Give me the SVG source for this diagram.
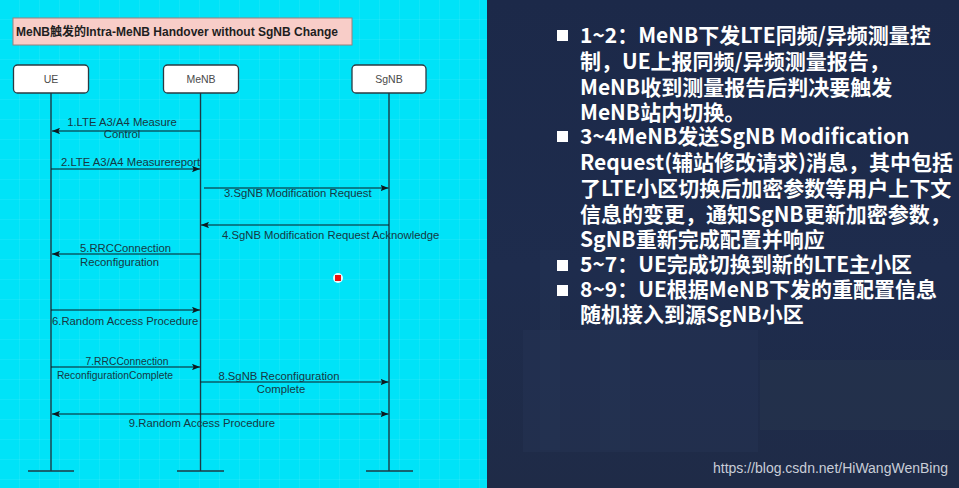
<svg xmlns="http://www.w3.org/2000/svg" width="959" height="488" viewBox="0 0 959 488">
<defs>
<pattern id="grid" width="20" height="20" patternUnits="userSpaceOnUse">
<path d="M20 0V20M0 20H20" fill="none" stroke="#ffffff" stroke-opacity="0.13" stroke-width="1"/>
</pattern>
<linearGradient id="night" x1="0" y1="0" x2="0" y2="1">
<stop offset="0" stop-color="#1c2949"/>
<stop offset="0.55" stop-color="#1e2c4d"/>
<stop offset="1" stop-color="#1f2b47"/>
</linearGradient>
<marker id="arr" viewBox="0 0 10 8" refX="10" refY="4" markerWidth="8" markerHeight="6.4" orient="auto-start-reverse" markerUnits="userSpaceOnUse">
<path d="M0 0L10 4L0 8L2 4Z" fill="#0d1a20"/>
</marker>
<style>
.lbl{font-family:"Liberation Sans",Arial,sans-serif;font-size:11.3px;fill:#173843}
.sm{font-size:10.3px}
.hdr{fill:#ffffff;stroke:#2b3b42;stroke-width:1.3}
.hdrt{font-family:"Liberation Sans",Arial,sans-serif;font-size:10.5px;fill:#4a4a4a;text-anchor:middle}
.life{stroke:#1c3a45;stroke-width:1.4;fill:none}
.msg{stroke:#0d1a20;stroke-width:1.1;fill:none}
.bul{font-family:"Noto Sans CJK SC","Noto Sans",sans-serif;font-size:21px;font-weight:bold;fill:#ffffff}
.sq{fill:#ffffff}
</style>
</defs>

<!-- left panel background -->
<rect x="0" y="0" width="487" height="488" fill="#00e3f8"/>
<rect x="0" y="0" width="487" height="488" fill="url(#grid)"/>

<!-- right panel background -->
<rect x="487" y="0" width="472" height="488" fill="url(#night)"/>
<rect x="523" y="330" width="235" height="122" fill="#27375a" opacity="0.35"/>
<rect x="540" y="250" width="20" height="200" fill="#2a3a5c" opacity="0.22"/>
<rect x="600" y="240" width="30" height="210" fill="#2a3a5c" opacity="0.2"/>
<rect x="760" y="360" width="199" height="70" fill="#2f3a4e" opacity="0.3"/>

<!-- title -->
<g id="title">
<rect x="13" y="18" width="339" height="27" fill="#f8cdc8" stroke="#9b7f7c" stroke-width="1"/>
<text x="16" y="36" font-family="'Liberation Sans','Noto Sans CJK SC',Arial,sans-serif" font-size="12" font-weight="bold" fill="#1e1e1e">MeNB触发的Intra-MeNB Handover without SgNB Change</text>
</g>

<!-- nodes -->
<g id="UE">
<rect class="hdr" x="13.5" y="65" width="75" height="28" rx="4"/>
<text class="hdrt" x="51" y="83">UE</text>
<line class="life" x1="51" y1="93" x2="51" y2="471"/>
<line class="life" x1="28" y1="471" x2="74" y2="471" stroke-width="2"/>
</g>
<g id="MeNB">
<rect class="hdr" x="163.5" y="65" width="75" height="28" rx="4"/>
<text class="hdrt" x="201" y="83">MeNB</text>
<line class="life" x1="200.5" y1="93" x2="200.5" y2="471"/>
<line class="life" x1="177" y1="471" x2="224" y2="471" stroke-width="2"/>
</g>
<g id="SgNB">
<rect class="hdr" x="352" y="65" width="74" height="28" rx="4"/>
<text class="hdrt" x="389" y="83">SgNB</text>
<line class="life" x1="389" y1="93" x2="389" y2="471"/>
<line class="life" x1="366" y1="471" x2="413" y2="471" stroke-width="2"/>
</g>

<!-- connectors -->
<g id="connectors">
<line class="msg" x1="200.5" y1="131" x2="52" y2="131" marker-end="url(#arr)"/>
<line class="msg" x1="51" y1="169" x2="200" y2="169" marker-end="url(#arr)"/>
<line class="msg" x1="204" y1="188" x2="388.5" y2="188" marker-end="url(#arr)"/>
<line class="msg" x1="389" y1="225" x2="201" y2="225" marker-end="url(#arr)"/>
<line class="msg" x1="200.5" y1="254" x2="52" y2="254" marker-end="url(#arr)"/>
<line class="msg" x1="51" y1="310" x2="200" y2="310" marker-end="url(#arr)"/>
<line class="msg" x1="51" y1="367" x2="200" y2="367" marker-end="url(#arr)"/>
<line class="msg" x1="200.5" y1="382" x2="388.5" y2="382" marker-end="url(#arr)"/>
<line class="msg" x1="52" y1="414" x2="388.5" y2="414" marker-start="url(#arr)" marker-end="url(#arr)"/>
</g>

<!-- connector labels -->
<g id="labels">
<text class="lbl" x="122" y="126" text-anchor="middle">1.LTE A3/A4 Measure</text>
<text class="lbl" x="122" y="138" text-anchor="middle">Control</text>
<text class="lbl" x="61" y="166">2.LTE A3/A4 Measurereport</text>
<text class="lbl" x="224" y="197">3.SgNB Modification Request</text>
<text class="lbl" x="222" y="239">4.SgNB Modification Request Acknowledge</text>
<text class="lbl" x="80" y="252">5.RRCConnection</text>
<text class="lbl" x="80" y="266">Reconfiguration</text>
<text class="lbl" x="52" y="325">6.Random Access Procedure</text>
<text class="lbl sm" x="127" y="365" text-anchor="middle">7.RRCConnection</text>
<text class="lbl sm" x="115" y="379" text-anchor="middle">ReconfigurationComplete</text>
<text class="lbl" x="279" y="380" text-anchor="middle">8.SgNB Reconfiguration</text>
<text class="lbl" x="281" y="393" text-anchor="middle">Complete</text>
<text class="lbl" x="202" y="427" text-anchor="middle">9.Random Access Procedure</text>
</g>

<!-- pointer dot -->
<circle cx="338" cy="278" r="5" fill="#ffffff" opacity="0.9"/>
<rect x="335" y="275" width="6" height="6" fill="#ee1111"/>

<!-- right panel text -->
<g id="notes">
<rect class="sq" x="557" y="30" width="11" height="11"/>
<rect class="sq" x="557" y="131" width="11" height="11"/>
<rect class="sq" x="557" y="260" width="11" height="11"/>
<rect class="sq" x="557" y="285" width="11" height="11"/>
<text class="bul" x="580" y="43">1~2：MeNB下发LTE同频/异频测量控</text>
<text class="bul" x="580" y="69">制，UE上报同频/异频测量报告，</text>
<text class="bul" x="580" y="95">MeNB收到测量报告后判决要触发</text>
<text class="bul" x="580" y="120">MeNB站内切换。</text>
<text class="bul" x="580" y="144">3~4MeNB发送SgNB Modification</text>
<text class="bul" x="580" y="170">Request(辅站修改请求)消息，其中包括</text>
<text class="bul" x="580" y="196">了LTE小区切换后加密参数等用户上下文</text>
<text class="bul" x="580" y="222">信息的变更，通知SgNB更新加密参数，</text>
<text class="bul" x="580" y="247">SgNB重新完成配置并响应</text>
<text class="bul" x="580" y="272">5~7：UE完成切换到新的LTE主小区</text>
<text class="bul" x="580" y="297">8~9：UE根据MeNB下发的重配置信息</text>
<text class="bul" x="580" y="322">随机接入到源SgNB小区</text>
</g>

<text x="948" y="473" text-anchor="end" font-family="'Liberation Sans',Arial,sans-serif" font-size="14" fill="#c9ced8">https://blog.csdn.net/HiWangWenBing</text>
</svg>
